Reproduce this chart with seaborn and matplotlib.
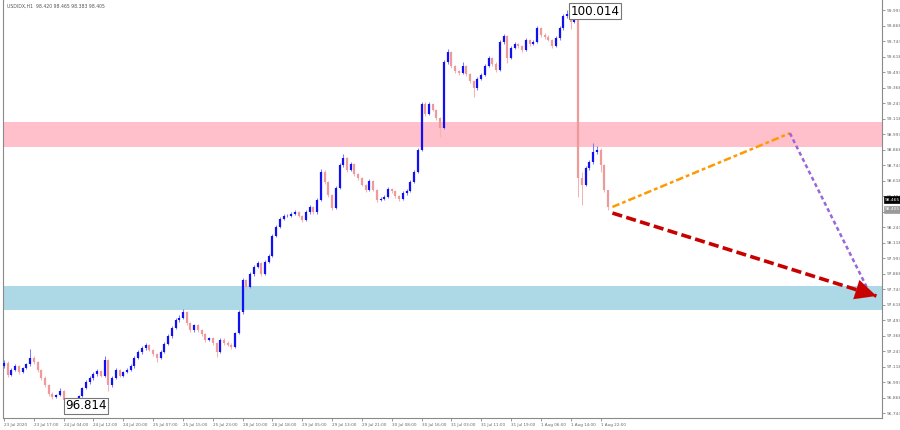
import numpy as np
import pandas as pd
import matplotlib
matplotlib.use("Agg")
import matplotlib.pyplot as plt
import matplotlib.transforms as mtransforms
import seaborn as sns

# ---------------- data ----------------
title_text = "USDIDX,H1  98.420 98.465 98.383 98.405"
first_open = 97.120
closes = [97.146, 97.049, 97.090, 97.122, 97.073, 97.106, 97.138, 97.186, 97.154, 97.090,
          97.025, 96.969, 96.896, 96.872, 96.888, 96.920, 96.848, 96.832, 96.840, 96.848,
          96.880, 96.944, 96.993, 97.025, 97.057, 97.082, 97.041, 97.170, 96.969, 97.025,
          97.090, 97.041, 97.073, 97.090, 97.122, 97.186, 97.235, 97.267, 97.291, 97.251,
          97.219, 97.186, 97.235, 97.299, 97.364, 97.428, 97.493, 97.509, 97.557, 97.469,
          97.412, 97.453, 97.412, 97.380, 97.332, 97.348, 97.307, 97.235, 97.332, 97.307,
          97.291, 97.275, 97.388, 97.557, 97.815, 97.759, 97.864, 97.920, 97.953, 97.864,
          97.961, 98.009, 98.170, 98.243, 98.308, 98.332, 98.332, 98.348, 98.364, 98.332,
          98.299, 98.364, 98.404, 98.364, 98.461, 98.687, 98.606, 98.501, 98.396, 98.558,
          98.743, 98.799, 98.703, 98.751, 98.670, 98.638, 98.582, 98.541, 98.614, 98.541,
          98.461, 98.469, 98.485, 98.549, 98.533, 98.493, 98.469, 98.517, 98.533, 98.606,
          98.687, 98.864, 99.235, 99.154, 99.235, 99.187, 99.122, 99.041, 99.574, 99.654,
          99.541, 99.501, 99.485, 99.541, 99.477, 99.420, 99.364, 99.437, 99.469, 99.541,
          99.606, 99.558, 99.509, 99.735, 99.783, 99.606, 99.687, 99.719, 99.703, 99.670,
          99.751, 99.719, 99.735, 99.848, 99.791, 99.775, 99.751, 99.703, 99.767, 99.848,
          99.945, 99.961, 99.896, 99.977, 98.638, 98.582, 98.719, 98.767, 98.848, 98.864,
          98.743, 98.541, 98.405]
highs = [97.170, 97.160, 97.105, 97.140, 97.130, 97.118, 97.150, 97.260, 97.200, 97.165,
         97.100, 97.040, 96.980, 96.910, 96.900, 96.945, 96.930, 96.860, 96.855, 96.862,
         96.892, 96.955, 97.010, 97.040, 97.070, 97.095, 97.090, 97.200, 97.180, 97.040,
         97.105, 97.100, 97.085, 97.105, 97.135, 97.200, 97.250, 97.280, 97.305, 97.300,
         97.262, 97.230, 97.248, 97.312, 97.378, 97.442, 97.508, 97.530, 97.580, 97.568,
         97.480, 97.465, 97.462, 97.422, 97.392, 97.360, 97.358, 97.318, 97.345, 97.345,
         97.320, 97.305, 97.400, 97.570, 97.835, 97.828, 97.878, 97.935, 97.968, 97.962,
         97.975, 98.025, 98.185, 98.258, 98.322, 98.345, 98.348, 98.362, 98.380, 98.372,
         98.340, 98.378, 98.420, 98.412, 98.475, 98.715, 98.700, 98.615, 98.510, 98.570,
         98.758, 98.830, 98.810, 98.765, 98.762, 98.680, 98.648, 98.592, 98.628, 98.625,
         98.552, 98.482, 98.498, 98.562, 98.560, 98.545, 98.505, 98.530, 98.546, 98.620,
         98.700, 98.878, 99.252, 99.248, 99.250, 99.245, 99.198, 99.132, 99.590, 99.680,
         99.665, 99.552, 99.512, 99.575, 99.552, 99.488, 99.430, 99.450, 99.482, 99.555,
         99.622, 99.618, 99.570, 99.750, 99.800, 99.795, 99.700, 99.732, 99.730, 99.715,
         99.765, 99.762, 99.750, 99.862, 99.858, 99.805, 99.788, 99.762, 99.780, 99.862,
         99.960, 99.993, 99.972, 100.014, 99.985, 98.690, 98.735, 98.785, 98.920, 98.900,
         98.880, 98.755, 98.465]
lows = [97.105, 97.030, 97.040, 97.080, 97.060, 97.065, 97.095, 97.125, 97.140, 97.075,
        97.010, 96.950, 96.880, 96.860, 96.862, 96.880, 96.835, 96.814, 96.820, 96.825,
        96.840, 96.870, 96.935, 96.980, 97.012, 97.045, 97.030, 97.035, 96.920, 96.955,
        97.015, 97.030, 97.032, 97.062, 97.080, 97.110, 97.175, 97.222, 97.255, 97.240,
        97.205, 97.155, 97.175, 97.225, 97.288, 97.352, 97.418, 97.480, 97.498, 97.455,
        97.398, 97.400, 97.400, 97.365, 97.318, 97.320, 97.295, 97.195, 97.225, 97.295,
        97.280, 97.262, 97.265, 97.378, 97.545, 97.740, 97.750, 97.852, 97.910, 97.850,
        97.855, 97.950, 98.000, 98.160, 98.232, 98.298, 98.320, 98.322, 98.338, 98.320,
        98.285, 98.290, 98.352, 98.350, 98.352, 98.450, 98.592, 98.488, 98.380, 98.385,
        98.548, 98.730, 98.690, 98.692, 98.658, 98.625, 98.570, 98.528, 98.532, 98.530,
        98.448, 98.450, 98.458, 98.475, 98.520, 98.480, 98.455, 98.460, 98.505, 98.522,
        98.595, 98.675, 98.855, 99.140, 99.145, 99.175, 99.110, 98.970, 99.030, 99.560,
        99.528, 99.488, 99.472, 99.475, 99.465, 99.405, 99.290, 99.352, 99.425, 99.458,
        99.530, 99.545, 99.495, 99.498, 99.722, 99.565, 99.595, 99.675, 99.690, 99.658,
        99.660, 99.706, 99.708, 99.725, 99.778, 99.762, 99.740, 99.690, 99.692, 99.755,
        99.835, 99.930, 99.840, 99.885, 98.485, 98.420, 98.570, 98.700, 98.755, 98.830,
        98.685, 98.525, 98.383]

time_labels = ["23 Jul 2020", "23 Jul 17:00", "24 Jul 04:00", "24 Jul 12:00", "24 Jul 20:00",
               "25 Jul 07:00", "25 Jul 15:00", "25 Jul 23:00", "28 Jul 10:00", "28 Jul 18:00",
               "29 Jul 05:00", "29 Jul 13:00", "29 Jul 21:00", "30 Jul 08:00", "30 Jul 16:00",
               "31 Jul 03:00", "31 Jul 11:00", "31 Jul 19:00", "1 Aug 06:00", "1 Aug 14:00",
               "1 Aug 22:00"]
label_step = 8
price_ticks = [96.743, 96.868, 96.993, 97.118, 97.243, 97.368, 97.493, 97.618, 97.743,
               97.868, 97.993, 98.118, 98.243, 98.368, 98.493, 98.618, 98.743, 98.868,
               98.993, 99.118, 99.243, 99.368, 99.493, 99.618, 99.743, 99.868, 99.993]

resistance_zone = (98.888, 99.090)
support_zone = (97.574, 97.767)
high_label = "100.014"
low_label = "96.814"
bid_label = 98.465
last_label = 98.405

# forecast path (bar index, price)
orange_path = ([163.2, 210.8], [98.405, 99.000])
purple_path = ([210.8, 231.8], [99.000, 97.735])
red_path = ([163.2, 234.0], [98.356, 97.687])

# ---------------- figure ----------------
sns.set_theme(style="white")
plt.rcParams['font.family'] = ['DejaVu Sans']

n = len(closes)
opens = [first_open] + closes[:-1]
df = pd.DataFrame({"bar": np.arange(n), "open": opens, "high": highs,
                   "low": lows, "close": closes})
df["bull"] = df["close"] >= df["open"]

fig = plt.figure(figsize=(9, 4.3), dpi=100)
ax = fig.add_axes([3 / 900, 12 / 430, 879 / 900, 418 / 430])
ax.set_facecolor("white")

ax.set_xlim(-0.27, 235.5)
ax.set_ylim(96.703, 100.074)

# zones
ax.axhspan(*resistance_zone, color="#FFC0CB", zorder=0, lw=0)
ax.axhspan(*support_zone, color="#ADD8E6", zorder=0, lw=0)

bull = df[df["bull"]]
bear = df[~df["bull"]]
# wicks
ax.vlines(bull["bar"], bull["low"], bull["high"], color="#7b7bff", lw=0.75, zorder=2)
ax.vlines(bear["bar"], bear["low"], bear["high"], color="#f4b4b4", lw=0.75, zorder=2)
# bodies
ax.vlines(bull["bar"], bull["open"], bull["close"], color="#1010f0", lw=1.6, zorder=3)
ax.vlines(bear["bar"], bear["open"], bear["close"], color="#ee9a9a", lw=1.6, zorder=3)

# forecast lines
ax.plot(*orange_path, color="#FF9900", lw=1.8, dashes=(3.0, 1.2, 1.5, 1.2), zorder=4)
ax.plot(*purple_path, color="#9966DD", lw=1.8, dashes=(1.6, 1.2), zorder=4)
sns.lineplot(x=red_path[0], y=red_path[1], ax=ax, color="#C80000", lw=2.6,
             dashes=False, zorder=4).lines[-1].set_dashes((2.8, 1.2))
ax.annotate("", xy=(red_path[0][1], red_path[1][1]),
            xytext=(red_path[0][1] - 5.0, red_path[1][1] + 0.048),
            arrowprops=dict(arrowstyle="-|>,head_length=1.25,head_width=0.6",
                            color="#C80000", lw=0.1, shrinkA=0, shrinkB=0),
            zorder=5)

# high / low labels
box = dict(boxstyle="square,pad=0.12", fc="white", ec="#777777", lw=0.8)
ax.text(152.0, 99.93, high_label, fontsize=8.6, ha="left", va="bottom",
        color="black", bbox=box, clip_on=False, zorder=6)
ax.text(16.4, 96.855, low_label, fontsize=8.6, ha="left", va="top",
        color="black", bbox=box, clip_on=False, zorder=6)

# axes styling
ax.spines["top"].set_visible(False)
for s in ["left", "bottom", "right"]:
    ax.spines[s].set_color("#8a8a8a")
    ax.spines[s].set_linewidth(0.8)

ax.yaxis.tick_right()
ax.set_yticks(price_ticks)
ax.set_yticklabels([f"{p:.3f}" for p in price_ticks])
ax.tick_params(axis="y", right=True, length=2.2, width=0.6, color="#8a8a8a",
               labelsize=3.2, labelcolor="#666666", pad=1.2)

xt = np.arange(len(time_labels)) * label_step
ax.set_xticks(xt)
ax.set_xticklabels(time_labels, ha="left")
ax.tick_params(axis="x", bottom=True, length=2.5, width=0.6, color="#8a8a8a",
               labelsize=3.0, labelcolor="#666666", pad=1.2)
ax.set_xlabel("")
ax.set_ylabel("")
ax.grid(False)

# price boxes on right axis
trans = mtransforms.blended_transform_factory(ax.transAxes, ax.transData)
ax.text(1.003, bid_label, f"{bid_label:.3f}", transform=trans, fontsize=3.2,
        color="white", ha="left", va="center", clip_on=False,
        bbox=dict(boxstyle="square,pad=0.25", fc="black", ec="black", lw=0.5))
ax.text(1.003, last_label - 0.02, f"{last_label:.3f}", transform=trans, fontsize=3.2,
        color="white", ha="left", va="center", clip_on=False,
        bbox=dict(boxstyle="square,pad=0.25", fc="#9a9a9a", ec="#9a9a9a", lw=0.5))

# title
ax.text(0.004, 0.992, title_text, transform=ax.transAxes, fontsize=3.3,
        color="#555555", ha="left", va="top")

fig.savefig("out.png", dpi=100, facecolor="white")
